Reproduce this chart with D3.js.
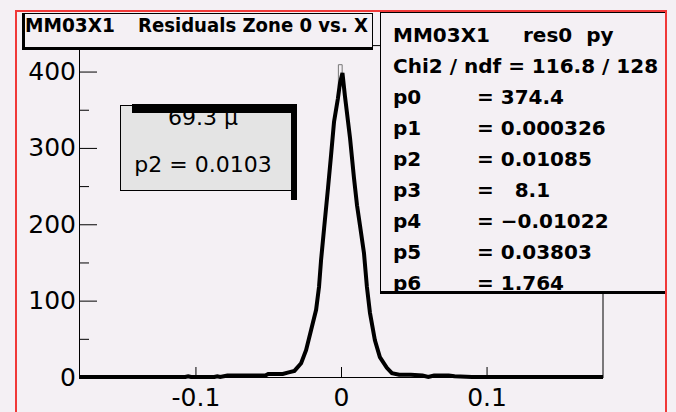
<!DOCTYPE html>
<html>
<head>
<meta charset="utf-8">
<script src="https://cdn.jsdelivr.net/npm/d3@7"></script>
<style>
body { margin: 0; background: #f4f0f4; }
text { font-family: "DejaVu Sans", sans-serif; }
</style>
</head>
<body>
<div id="chart"></div>
<script>
// residuals histogram
var resX = [-0.18, -0.107, -0.105, -0.103, -0.087, -0.085, -0.083, -0.078, -0.052, -0.05, -0.04, -0.036, -0.032,
            -0.0274, -0.024, -0.0205, -0.0171, -0.0151, -0.0137, -0.0116, -0.0089, -0.0068, -0.0048, -0.0021, -0.0007,
            0.001, 0.0027, 0.0062, 0.0089, 0.011, 0.013, 0.0158, 0.0178, 0.0199, 0.0233, 0.0267, 0.0315, 0.035,
            0.04, 0.048, 0.056, 0.06, 0.064, 0.074, 0.078, 0.09, 0.18]
var resY = [0, 0, 1, 0, 0, 1, 0, 2, 2, 4, 4, 6, 8,
            18, 35, 62, 88, 118, 153, 195, 248, 291, 334, 365, 385,
            398, 368, 313, 261, 225, 199, 162, 118, 84, 48, 26, 12, 5,
            3, 3, 2, 0, 2, 2, 1, 0, 0]

// peak bin outline sticking out above the thick line
var peakX = [-0.0018, -0.0018, 0.0008, 0.0008]
var peakY = [380, 409, 409, 380]

var yTicks = [0, 100, 200, 300, 400]
var yMinor = [50, 150, 250, 350]
var xTicks = [-0.1, 0, 0.1]
var xDomain = [-0.18, 0.18]
var yDomain = [0, 434]

var titleName = "MM03X1"
var titleText = "Residuals Zone 0 vs. X"
var statsHead = ["MM03X1", "res0  py"]
var statsChi = "Chi2 / ndf = 116.8 / 128"
var parNames = ["p0", "p1", "p2", "p3", "p4", "p5", "p6"]
var parValues = ["= 374.4", "= 0.000326", "= 0.01085", "=   8.1", "= \u22120.01022", "= 0.03803", "= 1.764"]
var boxLines = ["69.3 \u00b5", "p2 = 0.0103"]

var svgWidth = 676
var svgHeight = 412
var bg = "#f4f0f4"

var svg = d3.select("#chart").append("svg").attr("width", svgWidth).attr("height", svgHeight)
svg.append("rect").attr("width", svgWidth).attr("height", svgHeight).attr("fill", bg)

var plot = {left: 79, right: 603, top: 45.6, bottom: 377}

var xScale = d3.scaleLinear().domain(xDomain).range([plot.left, plot.right])
var yScale = d3.scaleLinear().domain(yDomain).range([plot.bottom, plot.top])

// frame right / top
svg.append("path")
    .attr("d", `M${plot.left},${plot.top}H${plot.right}V${plot.bottom}`)
    .attr("fill", "none").attr("stroke", "black").attr("stroke-width", 1)

// y axis, ticks pointing inward
svg.append("g").attr("transform", `translate(${plot.left},0)`)
    .call(d3.axisLeft(yScale).tickValues(yTicks).tickSizeInner(-18).tickSizeOuter(0).tickPadding(3))
svg.append("g").attr("transform", `translate(${plot.left},0)`)
    .call(d3.axisLeft(yScale).tickValues(yMinor).tickSizeInner(-10).tickSizeOuter(0).tickFormat(""))
    .select(".domain").remove()

svg.append("g").attr("transform", `translate(0,${plot.bottom})`)
    .call(d3.axisBottom(xScale).tickValues(xTicks).tickSizeInner(-10).tickSizeOuter(0).tickPadding(11)
        .tickFormat(d => d === 0 ? "0" : String(d)))

svg.selectAll(".tick text").attr("font-family", "DejaVu Sans").attr("font-size", 25).attr("fill", "black")
svg.selectAll(".tick line, .domain").attr("stroke", "black")

// histogram
var pts = resX.map((x, i) => [x, resY[i]])
var line = d3.line().x(d => xScale(d[0])).y(d => yScale(d[1]))

svg.append("path").datum(peakX.map((x, i) => [x, peakY[i]]))
    .attr("d", line).attr("fill", "none").attr("stroke", "#777").attr("stroke-width", 1)

svg.append("path").datum(pts)
    .attr("d", line).attr("fill", "none").attr("stroke", "black")
    .attr("stroke-width", 4).attr("stroke-linejoin", "miter")

// small grey box
var gb = svg.append("g")
gb.append("rect").attr("x", 120.5).attr("y", 105.5).attr("width", 171).attr("height", 85)
    .attr("fill", "#e4e4e4").attr("stroke", "black")
gb.selectAll("text.box").data(boxLines).enter().append("text")
    .attr("x", 203).attr("y", (d, i) => 125 + i * 47)
    .attr("text-anchor", "middle").attr("font-size", 22).attr("fill", "black")
    .text(d => d)
gb.append("rect").attr("x", 132).attr("y", 104).attr("width", 165).attr("height", 9).attr("fill", "black")
gb.append("rect").attr("x", 291).attr("y", 104).attr("width", 6).attr("height", 96).attr("fill", "black")

// title box
var tb = svg.append("g")
tb.append("rect").attr("x", 22.5).attr("y", 13.5).attr("width", 350).attr("height", 34)
    .attr("fill", bg).attr("stroke", "black")
tb.append("rect").attr("x", 22).attr("y", 13).attr("width", 3).attr("height", 37).attr("fill", "black")
tb.append("rect").attr("x", 22).attr("y", 47).attr("width", 351).attr("height", 3).attr("fill", "black")
tb.append("text").attr("x", 25).attr("y", 32).attr("font-size", 19).attr("font-weight", "bold")
    .attr("textLength", 90).attr("lengthAdjust", "spacingAndGlyphs").text(titleName)
tb.append("text").attr("x", 138).attr("y", 32).attr("font-size", 19).attr("font-weight", "bold")
    .attr("textLength", 230).attr("lengthAdjust", "spacingAndGlyphs").text(titleText)

// stats box
var sb = svg.append("g")
svg.append("clipPath").attr("id", "statsClip")
    .append("rect").attr("x", 380).attr("y", 12).attr("width", 285).attr("height", 280)
sb.append("rect").attr("x", 380.5).attr("y", 12.5).attr("width", 285).attr("height", 279)
    .attr("fill", bg).attr("stroke", "black")
var st = sb.append("g").attr("clip-path", "url(#statsClip)")
    .attr("font-size", 20).attr("font-weight", "bold").attr("fill", "black")
st.append("text").attr("x", 393).attr("y", 42).text(statsHead[0])
st.append("text").attr("x", 523).attr("y", 42).style("white-space", "pre").text(statsHead[1])
st.append("text").attr("x", 393).attr("y", 73).text(statsChi)
st.selectAll("text.pn").data(parNames).enter().append("text").attr("class", "pn")
    .attr("x", 393).attr("y", (d, i) => 104 + i * 31).text(d => d)
st.selectAll("text.pv").data(parValues).enter().append("text").attr("class", "pv")
    .attr("x", 477).attr("y", (d, i) => 104 + i * 31).style("white-space", "pre").text(d => d)
sb.append("rect").attr("x", 380).attr("y", 291).attr("width", 286).attr("height", 3).attr("fill", "black")

// red pad border
svg.append("rect").attr("x", 16).attr("y", 11).attr("width", 650).attr("height", 420)
    .attr("fill", "none").attr("stroke", "#f03838").attr("stroke-width", 2)
</script>
</body>
</html>
